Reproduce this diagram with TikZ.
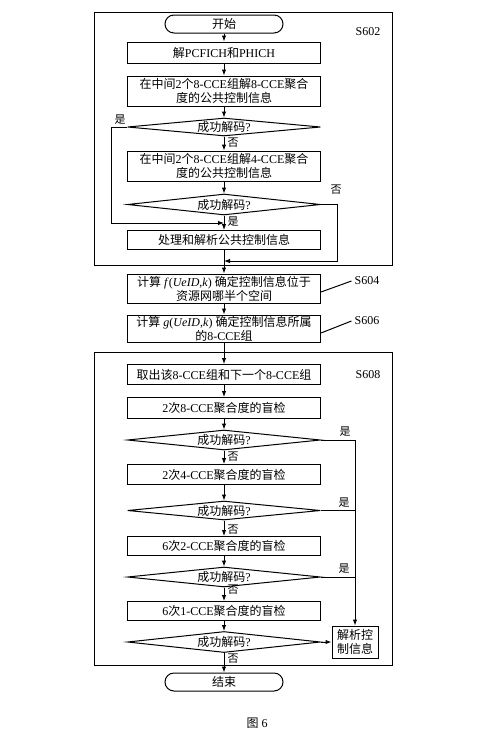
\documentclass[tikz,border=0pt]{standalone}
\usepackage{fontspec}
\setmainfont{Liberation Serif}
\newfontfamily\cjk{Noto Sans CJK SC}
\usetikzlibrary{arrows.meta,shapes.geometric}
\newcommand\zh[1]{{\cjk #1}}
\begin{document}
\begin{tikzpicture}[x=1pt,y=-1pt,
  every node/.style={font=\fontsize{12}{14}\selectfont},
  box/.style={draw, line width=1pt, minimum width=193pt, inner sep=1pt, align=center},
  dia/.style={draw, shape=diamond, aspect=8, inner sep=0pt, minimum width=193pt, line width=1pt},
  term/.style={draw, line width=1pt, rounded corners=9pt, minimum width=118pt, minimum height=18pt, inner sep=0pt},
  arr/.style={-{Latex[length=6pt,width=4.5pt]}, line width=1pt},
  ln/.style={line width=1pt},
  lab/.style={font=\fontsize{11}{12}\selectfont, inner sep=1pt},
  grp/.style={draw, line width=1pt, inner sep=0pt},
  stlab/.style={font=\fontsize{12}{14}\selectfont, inner sep=3pt}
]
\useasboundingbox (0,0) rectangle (500,750);
\fill[white] (0,0) rectangle (500,750);

% group frames
\node[grp, minimum width=298pt, minimum height=253pt] (g1) at (243,138.5) {};
\node[grp, minimum width=298pt, minimum height=313pt] (g2) at (243,508.5) {};

% S602 part
\node[term] (start) at (224,24) {\zh{开始}};
\node[box, minimum height=21pt] (b1) at (224,52.5) {\zh{解}PCFICH\zh{和}PHICH};
\node[box, minimum height=30pt] (b2) at (224,91) {\zh{在中间}2\zh{个}8-CCE\zh{组解}8-CCE\zh{聚合}\\\zh{度的公共控制信息}};
\node[dia, minimum height=18pt] (d1) at (224,127) {\zh{成功解码}?};
\node[box, minimum height=30pt] (b3) at (224,166) {\zh{在中间}2\zh{个}8-CCE\zh{组解}4-CCE\zh{聚合}\\\zh{度的公共控制信息}};
\node[dia, minimum height=21pt] (d2) at (224,204.5) {\zh{成功解码}?};
\node[box, minimum height=19pt] (b4) at (224,240) {\zh{处理和解析公共控制信息}};
\coordinate (j1) at (224,223);
\coordinate (j2) at (224,261);

% S604 / S606
\node[box, minimum height=29pt] (b5) at (224,288.5) {\zh{计算} \textit{f}(\textit{UeID},\textit{k}) \zh{确定控制信息位于}\\\zh{资源网哪半个空间}};
\node[box, minimum height=27pt] (b6) at (224,328.5) {\zh{计算} \textit{g}(\textit{UeID},\textit{k}) \zh{确定控制信息所属}\\\zh{的}8-CCE\zh{组}};

% S608 part
\node[box, minimum height=20pt] (b7) at (224,374.5) {\zh{取出该}8-CCE\zh{组和下一个}8-CCE\zh{组}};
\node[box, minimum height=21pt] (b8) at (224,408) {2\zh{次}8-CCE\zh{聚合度的盲检}};
\node[dia, minimum height=20pt] (d3) at (224,440) {\zh{成功解码}?};
\node[box, minimum height=20pt] (b9) at (224,474.5) {2\zh{次}4-CCE\zh{聚合度的盲检}};
\node[dia, minimum height=19pt] (d4) at (224,510.5) {\zh{成功解码}?};
\node[box, minimum height=19pt] (b10) at (224,546) {6\zh{次}2-CCE\zh{聚合度的盲检}};
\node[dia, minimum height=20pt] (d5) at (224,577) {\zh{成功解码}?};
\node[box, minimum height=19pt] (b11) at (224,611) {6\zh{次}1-CCE\zh{聚合度的盲检}};
\node[dia, minimum height=21pt] (d6) at (224,642) {\zh{成功解码}?};
\node[draw, line width=1pt, minimum width=46pt, minimum height=32pt, inner sep=1pt, align=center] (pa) at (355,642) {\zh{解析控}\\\zh{制信息}};
\node[term] (end) at (224,682) {\zh{结束}};

% step labels
\node[stlab] (s602) at (368,32) {S602};
\node[stlab] (s604) at (367,281) {S604};
\node[stlab] (s606) at (367,321) {S606};
\node[stlab] (s608) at (368,375) {S608};
\draw[ln] ([yshift=-3.5pt]b5.east) -- (s604.west);
\draw[ln] ([yshift=-4.5pt]b6.east) -- (s606.west);

% yes / no labels
\node[lab] (y1) at (120,120) {\zh{是}};
\node[lab] (n1) at (233,143) {\zh{否}};
\node[lab] (n2) at (336,190) {\zh{否}};
\node[lab] (y2) at (233,222) {\zh{是}};
\node[lab] (y3) at (345,432) {\zh{是}};
\node[lab] (n3) at (233,457) {\zh{否}};
\node[lab] (y4) at (344,503) {\zh{是}};
\node[lab] (n4) at (233,530) {\zh{否}};
\node[lab] (y5) at (344,569) {\zh{是}};
\node[lab] (n5) at (233,590) {\zh{否}};
\node[lab] (n6) at (233,659) {\zh{否}};

% caption
\node (cap) at (257,723) {\zh{图} 6};

% connectors S602
\draw[arr] (start) -- (b1);
\draw[arr] (b1) -- (b2);
\draw[arr] (b2) -- (d1);
\draw[arr] (d1) -- (b3);
\draw[arr] (b3) -- (d2);
\draw[arr] (d2) -- (b4);
\draw[arr] (d1.west) -- ++(-16,0) |- (j1);
\draw[arr] (d2.east) -- ++(16,0) |- (j2);
\draw[arr] (b4) -- (b5);
\draw[arr] (b5) -- (b6);
\draw[arr] (b6) -- (b7);

% connectors S608
\draw[arr] (b7) -- (b8);
\draw[arr] (b8) -- (d3);
\draw[arr] (d3) -- (b9);
\draw[arr] (b9) -- (d4);
\draw[arr] (d4) -- (b10);
\draw[arr] (b10) -- (d5);
\draw[arr] (d5) -- (b11);
\draw[arr] (b11) -- (d6);
\draw[arr] (d6) -- (end);
\draw[arr] (d3.east) -| (pa.north);
\draw[ln] (d4.east) -- (d4.east -| pa.north);
\draw[ln] (d5.east) -- (d5.east -| pa.north);
\draw[arr] (d6.east) -- (pa.west);
\end{tikzpicture}
\end{document}
